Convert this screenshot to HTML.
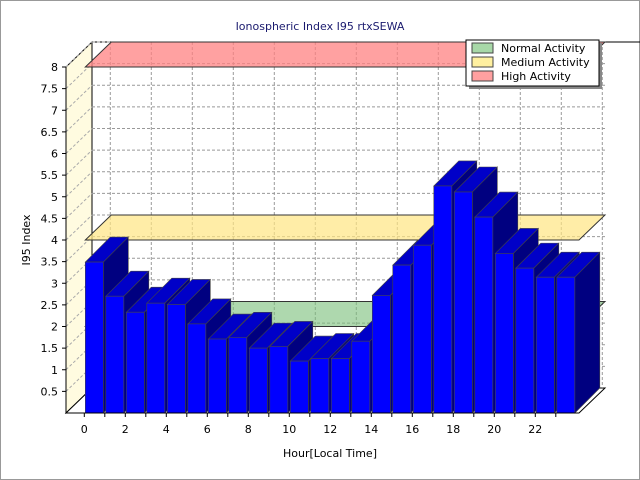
<!DOCTYPE html>
<html><head><meta charset="utf-8"><style>
body{margin:0;background:#fff}
svg{display:block;font-family:"DejaVu Sans","Liberation Sans",sans-serif}
</style></head><body>
<svg id="c" width="640" height="480" viewBox="0 0 640 480">
<rect x="0.5" y="0.5" width="639" height="479" fill="#fff" stroke="#999"/>
<text x="320" y="30" text-anchor="middle" font-size="11" fill="#1a1a6e">Ionospheric Index I95 rtxSEWA</text>
<g id="walls"></g>
<g id="grid"></g>
<g id="bands"></g>
<g id="bars"></g>
<g id="axes"></g>
<text transform="translate(30,240) rotate(-90)" text-anchor="middle" font-size="11" fill="#000">I95 Index</text>
<text x="330" y="457" text-anchor="middle" font-size="11" fill="#000">Hour[Local Time]</text>
<g>
<rect x="469" y="43" width="133" height="46" fill="#888"/>
<rect x="466" y="40" width="133" height="46" fill="#fff" stroke="#000"/>
<rect x="472" y="43" width="21" height="10" fill="#a8d8a8" stroke="#444"/>
<text x="501" y="52" font-size="11">Normal Activity</text>
<rect x="472" y="57" width="21" height="10" fill="#fff0a0" stroke="#444"/>
<text x="501" y="66" font-size="11">Medium Activity</text>
<rect x="472" y="71" width="21" height="10" fill="#ffa0a0" stroke="#444"/>
<text x="501" y="80" font-size="11">High Activity</text>
</g>
</svg>
<script>
const hours=[0,1,2,3,4,5,6,7,8,9,10,11,12,13,14,15,16,17,18,19,20,21,22,23];
const values=[3.49,2.70,2.33,2.54,2.51,2.06,1.71,1.75,1.50,1.54,1.20,1.26,1.26,1.66,2.72,3.42,3.88,5.25,5.11,4.53,3.69,3.35,3.14,3.14];
const yTicks=[0.5,1,1.5,2,2.5,3,3.5,4,4.5,5,5.5,6,6.5,7,7.5,8];
const xTicks=[0,2,4,6,8,10,12,14,16,18,20,22];
const bandLevels=[2,4,8];
const bandNames=['normal','medium','high'];
const bandColors=['rgba(120,190,120,0.6)','rgba(255,230,130,0.7)','rgba(255,130,130,0.75)'];
const NS='http://www.w3.org/2000/svg';
const X0=84.3,XW=20.5,Y0=413,YK=43.25,DX=26,DY=25,LEFT=66,RIGHT=579;
const xs=h=>X0+XW*h, ys=v=>Y0-YK*v;
function mk(p,tag,a){const e=document.createElementNS(NS,tag);for(const k in a)e.setAttribute(k,a[k]);p.appendChild(e);return e;}
const W=document.getElementById('walls'),G=document.getElementById('grid'),B=document.getElementById('bands'),R=document.getElementById('bars'),A=document.getElementById('axes');
let e;
e=mk(W,'polygon',{points:`${LEFT},${Y0} ${LEFT+DX},${Y0-DY} ${LEFT+DX},${ys(8)-DY} ${LEFT},${ys(8)}`,fill:'#fffbe0',stroke:'#000'});


e=mk(W,'polygon',{points:`${LEFT},${Y0} ${RIGHT},${Y0} ${RIGHT+DX},${Y0-DY} ${LEFT+DX},${Y0-DY}`,fill:'#fff',stroke:'#000'});


mk(W,'line',{x1:LEFT+DX,y1:ys(8)-DY,x2:640,y2:ys(8)-DY,stroke:'#000'});
yTicks.forEach(v=>{
 mk(G,'line',{x1:LEFT+DX,y1:ys(v)-DY,x2:RIGHT+DX,y2:ys(v)-DY,stroke:'#999','stroke-dasharray':'3,2'});
 mk(G,'line',{x1:LEFT,y1:ys(v),x2:LEFT+DX,y2:ys(v)-DY,stroke:'#aaa','stroke-dasharray':'3,2'});
 mk(A,'line',{x1:LEFT-4,y1:ys(v),x2:LEFT,y2:ys(v),stroke:'#000'});
 const t=mk(A,'text',{x:LEFT-8,y:ys(v)+4,'text-anchor':'end','font-size':'11'});
 t.textContent=v;
 
 
});
for(let gx=X0+DX;gx<=RIGHT+DX;gx+=2*XW)mk(G,'line',{x1:gx,y1:ys(8)-DY,x2:gx,y2:Y0-DY,stroke:'#999','stroke-dasharray':'3,2'});
bandLevels.forEach((v,i)=>{
 const p=mk(B,'polygon',{points:`${X0+1},${ys(v)} ${RIGHT},${ys(v)} ${RIGHT+DX},${ys(v)-DY} ${X0+1+DX},${ys(v)-DY}`,fill:bandColors[i],stroke:'#333'});
 
 
});
hours.forEach((h,i)=>{
 const x=xs(h)+1,w=18,y=ys(values[i]),d=DX-1;
 const g=mk(R,'g',{});
 
 
 mk(g,'polygon',{points:`${x+w},${Y0} ${x+w+d},${Y0-d} ${x+w+d},${y-d} ${x+w},${y}`,fill:'#000080',stroke:'#444','stroke-width':0.6});
 mk(g,'polygon',{points:`${x},${y} ${x+w},${y} ${x+w+d},${y-d} ${x+d},${y-d}`,fill:'#0000c8',stroke:'#444','stroke-width':0.6});
 mk(g,'rect',{x:x,y:y,width:w,height:Y0-y,fill:'#0000ff',stroke:'#444','stroke-width':0.6});
});
mk(A,'line',{x1:LEFT,y1:Y0,x2:RIGHT,y2:Y0,stroke:'#000'});
mk(A,'line',{x1:LEFT,y1:Y0,x2:LEFT,y2:ys(8),stroke:'#000'});
hours.forEach(h=>mk(A,'line',{x1:xs(h),y1:Y0,x2:xs(h),y2:Y0+4,stroke:'#000'}));
xTicks.forEach(h=>{
 const t=mk(A,'text',{x:xs(h),y:Y0+20,'text-anchor':'middle','font-size':'11'});
 t.textContent=h;
 
 
});
</script>
</body></html>
